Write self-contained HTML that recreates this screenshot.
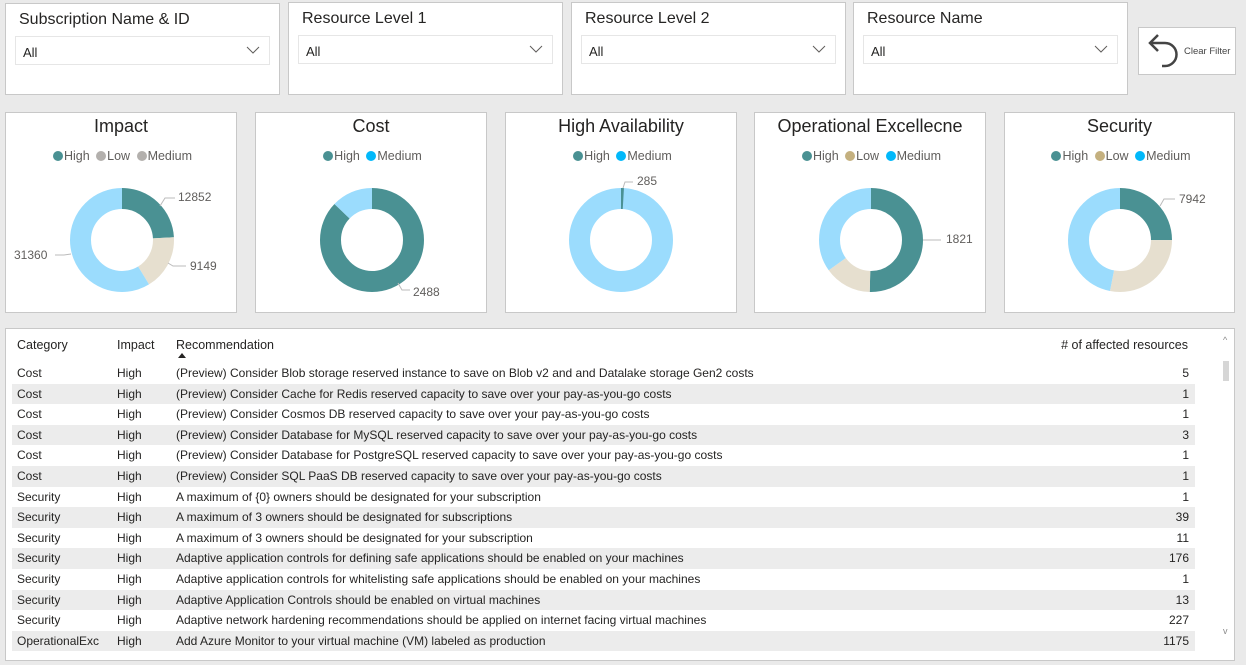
<!DOCTYPE html>
<html><head><meta charset="utf-8"><style>
*{margin:0;padding:0;box-sizing:border-box}
body{width:1246px;height:665px;background:#eaeaea;font-family:"Segoe UI","Liberation Sans",sans-serif;position:relative;overflow:hidden;color:#252423}
.p{position:absolute;background:#fff;border:1px solid #c8c8c8}
.sl .t{position:absolute;left:13px;top:7px;font-size:16px;color:#252423}
.sl .dd{position:absolute;left:9px;top:32px;right:9px;height:29px;border:1px solid #e6e6e6;font-size:13px;padding:8px 0 0 7px}
.sl .dd svg{position:absolute;right:9px;top:9px}
.card .t{position:absolute;left:0;right:0;top:3px;text-align:center;font-size:18px;color:#252423}
.card .lg{position:absolute;left:0;right:0;top:36px;text-align:center;font-size:12.5px;color:#605e5c}
.dot{display:inline-block;width:10px;height:10px;border-radius:50%;vertical-align:-1px;margin:0 1px 0 3px}
.lbl{position:absolute;font-size:12px;color:#605e5c}
.row{position:absolute;left:7px;width:1183px;height:20.6px;font-size:12px}
.row span{position:absolute;top:3px;white-space:nowrap}
.g{background:#ececec}
</style></head><body>

<div class="p sl" style="left:5px;top:3px;width:275px;height:92px"><div class="t">Subscription Name &amp; ID</div><div class="dd">All<svg width="14" height="8"><polyline points="1,1 7,7 13,1" fill="none" stroke="#605e5c"/></svg></div></div>
<div class="p sl" style="left:288px;top:2px;width:275px;height:93px"><div class="t">Resource Level 1</div><div class="dd">All<svg width="14" height="8"><polyline points="1,1 7,7 13,1" fill="none" stroke="#605e5c"/></svg></div></div>
<div class="p sl" style="left:571px;top:2px;width:275px;height:93px"><div class="t">Resource Level 2</div><div class="dd">All<svg width="14" height="8"><polyline points="1,1 7,7 13,1" fill="none" stroke="#605e5c"/></svg></div></div>
<div class="p sl" style="left:853px;top:2px;width:275px;height:93px"><div class="t">Resource Name</div><div class="dd">All<svg width="14" height="8"><polyline points="1,1 7,7 13,1" fill="none" stroke="#605e5c"/></svg></div></div>
<div class="p" style="left:1138px;top:27px;width:98px;height:48px">
<svg width="40" height="46" style="position:absolute;left:4px;top:0"><path d="M8 15 H22 A11 11 0 0 1 22 38 H19" fill="none" stroke="#444" stroke-width="2.5"/><polyline points="15,7 7,15 15,23" fill="none" stroke="#444" stroke-width="2.5"/></svg>
<span style="position:absolute;left:45px;top:18px;font-size:9.5px;color:#444">Clear Filter</span></div>

<div class="p card" style="left:5px;top:112px;width:232px;height:201px"><div class="t">Impact</div><div class="lg"><span class="dot" style="background:#4a9193"></span>High <span class="dot" style="background:#b3b0ad"></span>Low <span class="dot" style="background:#b3b0ad"></span>Medium</div></div>
<div class="p card" style="left:255px;top:112px;width:232px;height:201px"><div class="t">Cost</div><div class="lg"><span class="dot" style="background:#4a9193"></span>High <span class="dot" style="background:#01b8fa"></span>Medium</div></div>
<div class="p card" style="left:505px;top:112px;width:232px;height:201px"><div class="t">High Availability</div><div class="lg"><span class="dot" style="background:#4a9193"></span>High <span class="dot" style="background:#01b8fa"></span>Medium</div></div>
<div class="p card" style="left:754px;top:112px;width:232px;height:201px"><div class="t">Operational Excellecne</div><div class="lg"><span class="dot" style="background:#4a9193"></span>High <span class="dot" style="background:#c4b07f"></span>Low <span class="dot" style="background:#01b8fa"></span>Medium</div></div>
<div class="p card" style="left:1004px;top:112px;width:231px;height:201px"><div class="t">Security</div><div class="lg"><span class="dot" style="background:#4a9193"></span>High <span class="dot" style="background:#c4b07f"></span>Low <span class="dot" style="background:#01b8fa"></span>Medium</div></div>

<svg width="1246" height="665" style="position:absolute;left:0;top:0">
<g fill="none" stroke-width="21">
<g transform="rotate(-90 122 240)">
<circle cx="122" cy="240" r="41.5" stroke="#4a9193" stroke-dasharray="62.8 300"/>
<circle cx="122" cy="240" r="41.5" stroke="#e6dfcf" stroke-dasharray="44.7 300" stroke-dashoffset="-62.8"/>
<circle cx="122" cy="240" r="41.5" stroke="#9bdcfd" stroke-dasharray="153.3 300" stroke-dashoffset="-107.5"/>
</g>
<g transform="rotate(-90 372 240)">
<circle cx="372" cy="240" r="41.5" stroke="#4a9193" stroke-dasharray="226.9 300"/>
<circle cx="372" cy="240" r="41.5" stroke="#9bdcfd" stroke-dasharray="33.9 300" stroke-dashoffset="-226.9"/>
</g>
<g transform="rotate(-90 621 240)">
<circle cx="621" cy="240" r="41.5" stroke="#9bdcfd"/>
<circle cx="621" cy="240" r="41.5" stroke="#4a9193" stroke-dasharray="2.4 300"/>
</g>
<g transform="rotate(-90 871 240)">
<circle cx="871" cy="240" r="41.5" stroke="#4a9193" stroke-dasharray="131.2 300"/>
<circle cx="871" cy="240" r="41.5" stroke="#e6dfcf" stroke-dasharray="38.3 300" stroke-dashoffset="-131.2"/>
<circle cx="871" cy="240" r="41.5" stroke="#9bdcfd" stroke-dasharray="91.3 300" stroke-dashoffset="-169.5"/>
</g>
<g transform="rotate(-90 1120 240)">
<circle cx="1120" cy="240" r="41.5" stroke="#4a9193" stroke-dasharray="65.2 300"/>
<circle cx="1120" cy="240" r="41.5" stroke="#e6dfcf" stroke-dasharray="73 300" stroke-dashoffset="-65.2"/>
<circle cx="1120" cy="240" r="41.5" stroke="#9bdcfd" stroke-dasharray="122.6 300" stroke-dashoffset="-138.2"/>
</g>
</g>
<g fill="none" stroke="#bbb" stroke-width="1">
<polyline points="160,206 165,198 175,198"/>
<polyline points="168,263 173,266 186,266"/>
<polyline points="71,254 64,255 55,255"/>
<polyline points="398,283 402,290 410,290"/>
<polyline points="623,188 625,182 633,182"/>
<polyline points="923,240 941,240"/>
<polyline points="1160,206 1164,199 1175,199"/>
</g>
<line x1="12" y1="361.5" x2="1195" y2="361.5" stroke="#4a9193"/>
</svg>
<div class="lbl" style="left:178px;top:190px">12852</div>
<div class="lbl" style="left:190px;top:259px">9149</div>
<div class="lbl" style="left:14px;top:248px">31360</div>
<div class="lbl" style="left:413px;top:285px">2488</div>
<div class="lbl" style="left:637px;top:174px">285</div>
<div class="lbl" style="left:946px;top:232px">1821</div>
<div class="lbl" style="left:1179px;top:192px">7942</div>

<div class="p" style="left:5px;top:328px;width:1230px;height:333px;overflow:hidden">
<div style="position:absolute;left:11px;top:9px;font-size:12.5px">Category</div>
<div style="position:absolute;left:111px;top:9px;font-size:12.5px">Impact</div>
<div style="position:absolute;left:170px;top:9px;font-size:12.5px">Recommendation</div>
<svg width="8" height="5" style="position:absolute;left:172px;top:24px"><polygon points="0,5 4,0 8,5" fill="#252423"/></svg>
<div style="position:absolute;right:46px;top:9px;font-size:12.5px"># of affected resources</div>
<div style="position:absolute;left:1217px;top:32px;width:6px;height:20px;background:#d6d6d6"></div>
<div style="position:absolute;left:1217px;top:6px;font-size:9px;color:#888">^</div>
<div style="position:absolute;left:1217px;top:297px;font-size:9px;color:#888">v</div>
</div>
<div style="position:absolute;left:5px;top:328px;width:1230px;height:333px;overflow:hidden">
<div class="row" style="top:35px"><span style="left:5px">Cost</span><span style="left:105px">High</span><span style="left:164px">(Preview) Consider Blob storage reserved instance to save on Blob v2 and and Datalake storage Gen2 costs</span><span style="right:6px">5</span></div>
<div class="row g" style="top:55.6px"><span style="left:5px">Cost</span><span style="left:105px">High</span><span style="left:164px">(Preview) Consider Cache for Redis reserved capacity to save over your pay-as-you-go costs</span><span style="right:6px">1</span></div>
<div class="row" style="top:76.2px"><span style="left:5px">Cost</span><span style="left:105px">High</span><span style="left:164px">(Preview) Consider Cosmos DB reserved capacity to save over your pay-as-you-go costs</span><span style="right:6px">1</span></div>
<div class="row g" style="top:96.8px"><span style="left:5px">Cost</span><span style="left:105px">High</span><span style="left:164px">(Preview) Consider Database for MySQL reserved capacity to save over your pay-as-you-go costs</span><span style="right:6px">3</span></div>
<div class="row" style="top:117.4px"><span style="left:5px">Cost</span><span style="left:105px">High</span><span style="left:164px">(Preview) Consider Database for PostgreSQL reserved capacity to save over your pay-as-you-go costs</span><span style="right:6px">1</span></div>
<div class="row g" style="top:138px"><span style="left:5px">Cost</span><span style="left:105px">High</span><span style="left:164px">(Preview) Consider SQL PaaS DB reserved capacity to save over your pay-as-you-go costs</span><span style="right:6px">1</span></div>
<div class="row" style="top:158.6px"><span style="left:5px">Security</span><span style="left:105px">High</span><span style="left:164px">A maximum of {0} owners should be designated for your subscription</span><span style="right:6px">1</span></div>
<div class="row g" style="top:179.2px"><span style="left:5px">Security</span><span style="left:105px">High</span><span style="left:164px">A maximum of 3 owners should be designated for subscriptions</span><span style="right:6px">39</span></div>
<div class="row" style="top:199.8px"><span style="left:5px">Security</span><span style="left:105px">High</span><span style="left:164px">A maximum of 3 owners should be designated for your subscription</span><span style="right:6px">11</span></div>
<div class="row g" style="top:220.4px"><span style="left:5px">Security</span><span style="left:105px">High</span><span style="left:164px">Adaptive application controls for defining safe applications should be enabled on your machines</span><span style="right:6px">176</span></div>
<div class="row" style="top:241px"><span style="left:5px">Security</span><span style="left:105px">High</span><span style="left:164px">Adaptive application controls for whitelisting safe applications should be enabled on your machines</span><span style="right:6px">1</span></div>
<div class="row g" style="top:261.6px"><span style="left:5px">Security</span><span style="left:105px">High</span><span style="left:164px">Adaptive Application Controls should be enabled on virtual machines</span><span style="right:6px">13</span></div>
<div class="row" style="top:282.2px"><span style="left:5px">Security</span><span style="left:105px">High</span><span style="left:164px">Adaptive network hardening recommendations should be applied on internet facing virtual machines</span><span style="right:6px">227</span></div>
<div class="row g" style="top:302.8px"><span style="left:5px">OperationalExc</span><span style="left:105px">High</span><span style="left:164px">Add Azure Monitor to your virtual machine (VM) labeled as production</span><span style="right:6px">1175</span></div>
</div>
</body></html>
